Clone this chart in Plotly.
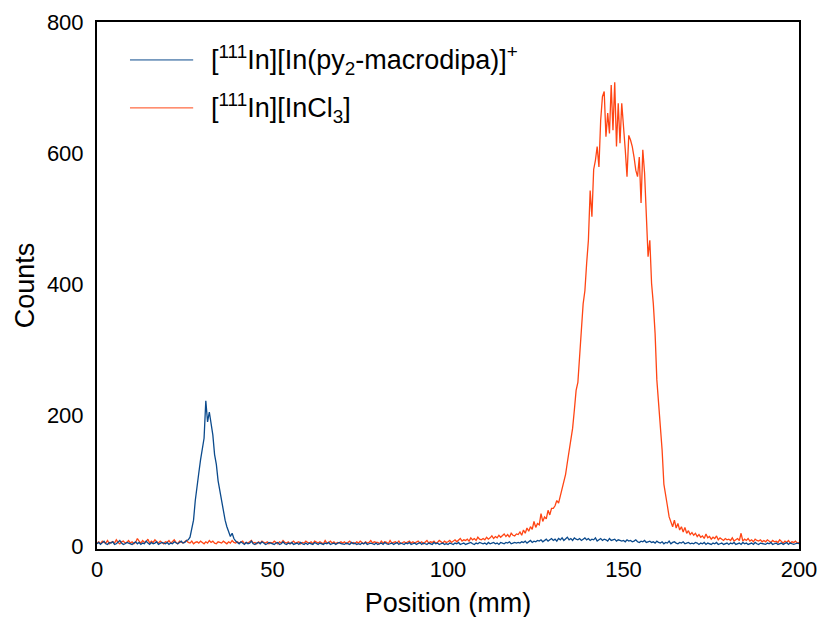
import plotly.graph_objects as go

# Position axis (mm), 0.5 mm sampling
position_mm = [i * 0.5 for i in range(401)]

# [111In][In(py2-macrodipa)]+  counts
counts_complex = [
    4,6,3,5,8,4,3,6,5,7,3,4,6,9,5,3,4,6,5,4,
    3,5,7,4,6,3,5,4,8,5,3,6,4,5,7,3,4,6,5,4,
    6,3,5,4,7,5,4,6,8,5,6,9,10,14,25,40,70,95,112,132,
    150,165,222,190,205,185,170,140,125,100,85,70,50,40,30,22,15,20,12,8,
    6,4,7,5,3,6,4,5,8,4,3,5,6,4,7,5,3,4,6,5,
    4,3,5,6,3,4,7,4,3,5,4,6,3,4,5,3,6,4,3,5,
    3,5,4,3,6,4,3,5,4,3,5,4,6,3,4,5,3,4,6,4,
    4,3,5,4,3,6,4,5,3,4,3,5,4,6,3,4,5,4,3,5,
    3,4,5,3,6,4,3,4,5,3,4,6,3,5,4,3,5,4,6,3,
    4,5,3,4,6,3,5,4,3,5,4,3,6,4,5,3,4,5,3,4,
    3,5,4,3,5,4,6,3,4,5,3,4,5,6,4,3,5,4,6,5,
    4,5,3,6,4,5,6,4,5,3,6,5,4,6,5,7,4,5,6,5,
    6,5,7,6,8,5,7,9,6,8,7,9,8,10,7,9,11,8,10,12,
    9,11,8,12,10,13,9,11,14,10,12,9,13,11,10,12,9,11,13,10,
    12,9,11,10,13,8,10,12,9,11,10,8,12,9,10,11,8,10,9,8,
    9,7,10,8,9,7,8,10,7,6,8,7,9,6,7,8,6,7,5,8,
    6,5,7,4,6,5,8,4,6,7,5,4,6,5,7,4,5,6,4,5,
    4,6,5,3,5,4,6,3,5,4,3,5,4,6,3,4,5,3,4,5,
    3,5,4,6,3,4,5,3,6,4,5,3,4,5,3,6,4,3,5,4,
    4,3,5,4,6,3,4,5,3,4,5,3,4,6,3,5,4,3,4,5,
    4,
]

# [111In][InCl3] counts
counts_incl3 = [
    5,7,4,8,6,5,9,4,6,7,5,10,6,4,7,8,5,6,9,5,
    7,4,6,12,8,5,9,6,7,11,5,8,6,10,7,5,8,6,4,7,
    6,9,5,7,10,6,4,8,6,5,7,9,6,5,8,4,6,7,5,8,
    6,4,7,5,9,6,8,5,4,7,6,5,8,6,4,7,5,9,6,5,
    7,5,6,8,4,6,5,7,9,5,6,4,7,5,8,6,5,7,4,6,
    5,8,6,4,7,5,9,6,5,7,4,6,8,5,6,7,4,6,5,8,
    6,5,7,4,8,6,5,7,6,4,9,5,6,8,5,7,4,6,5,7,
    5,7,4,6,8,5,6,4,7,5,8,6,4,7,5,6,9,5,7,6,
    6,4,8,5,7,6,4,9,5,6,7,5,8,4,6,7,5,6,8,5,
    7,5,6,8,5,7,4,6,9,5,7,6,8,5,6,9,7,5,8,6,
    7,9,6,8,10,7,9,12,8,10,9,11,8,13,10,12,9,14,11,10,
    12,10,14,11,13,16,12,15,13,17,14,16,19,15,18,14,20,17,16,19,
    18,22,17,25,20,28,23,30,26,38,29,35,33,50,38,45,42,55,48,58,
    58,62,70,66,78,88,101,110,128,147,160,180,208,238,250,284,330,370,390,432,
    467,543,503,575,589,610,579,650,686,694,625,661,630,704,635,708,610,676,615,676,
    645,605,564,627,620,610,594,574,564,594,524,605,570,493,442,467,401,370,325,254,
    218,180,147,95,75,62,45,38,30,40,28,35,25,30,22,29,20,24,18,21,
    17,20,15,18,14,16,12,19,13,15,11,14,12,16,10,13,11,9,12,10,
    11,9,13,8,10,12,9,20,8,11,9,12,8,10,7,11,9,8,10,7,
    9,7,10,8,6,9,7,8,6,10,7,5,8,6,9,5,7,6,8,5,
    6,
]

series_names = [
    "[<sup>111</sup>In][In(py<sub>2</sub>-macrodipa)]<sup>+</sup>",
    "[<sup>111</sup>In][InCl<sub>3</sub>]",
]
series_colors = ["#0b4a8c", "#ff4514"]

x_ticks = [0, 50, 100, 150, 200]
y_ticks = [0, 200, 400, 600, 800]

FONT = "Liberation Sans, Arial, sans-serif"

fig = go.Figure()
fig.add_trace(go.Scatter(x=position_mm, y=counts_incl3, mode="lines",
                         line=dict(color=series_colors[1], width=1.3),
                         name=series_names[1], showlegend=False))
fig.add_trace(go.Scatter(x=position_mm, y=counts_complex, mode="lines",
                         line=dict(color=series_colors[0], width=1.3),
                         name=series_names[0], showlegend=False))

# manual legend
legend_y = [0.928, 0.837]
for name, color, ly in zip(series_names, series_colors, legend_y):
    fig.add_shape(type="line", xref="paper", yref="paper",
                  x0=0.047, x1=0.137, y0=ly, y1=ly,
                  line=dict(color=color, width=1))
    fig.add_annotation(xref="paper", yref="paper", x=0.159, y=ly,
                       text=name, showarrow=False, xanchor="left", yanchor="middle",
                       font=dict(family=FONT, size=27, color="black"))

# page body has an 8px default margin, so offsets are compensated here
fig.update_layout(
    width=825, height=617,
    margin=dict(l=89, r=34, t=14, b=76, autoexpand=False),
    paper_bgcolor="white", plot_bgcolor="white",
    font=dict(family=FONT, color="black"),
    showlegend=False,
)
fig.update_xaxes(
    range=[0, 200], tickvals=x_ticks, ticktext=[str(v) for v in x_ticks],
    showgrid=False, zeroline=False, showline=True, linecolor="black", linewidth=2,
    mirror=True, ticks="",
    tickfont=dict(family=FONT, size=22), automargin=False,
    title=dict(text="Position (mm)", font=dict(family=FONT, size=27), standoff=12),
)
fig.update_yaxes(
    range=[-4, 800], tickvals=y_ticks, ticktext=[str(v) for v in y_ticks],
    showgrid=False, zeroline=False, showline=True, linecolor="black", linewidth=2,
    mirror=True, ticks="outside", ticklen=7, tickcolor="rgba(0,0,0,0)",
    tickfont=dict(family=FONT, size=22), automargin=False,
    title=dict(text="Counts", font=dict(family=FONT, size=27), standoff=4),
)

fig.write_html("out.html")
